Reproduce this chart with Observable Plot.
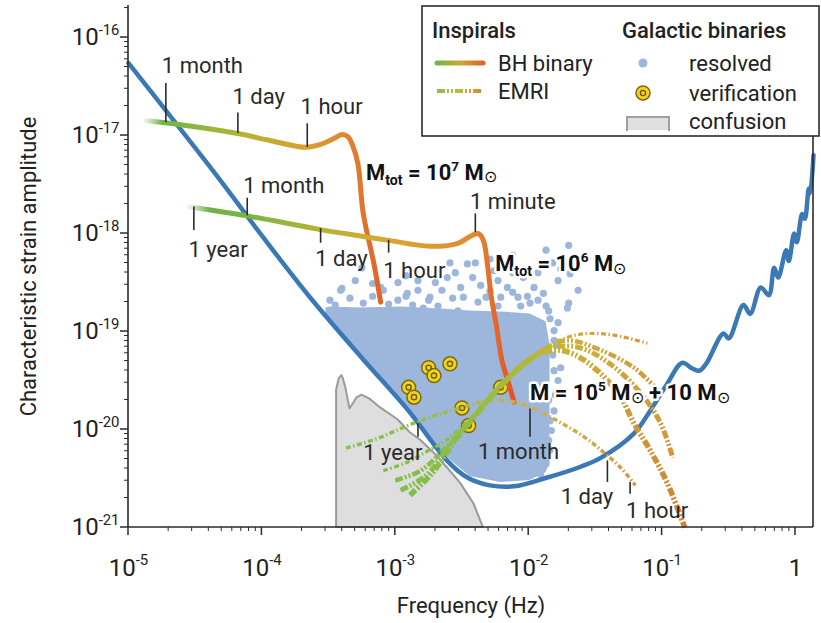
<!DOCTYPE html>
<html><head><meta charset="utf-8">
<script src="https://cdn.jsdelivr.net/npm/d3@7"></script>
<script src="https://cdn.jsdelivr.net/npm/@observablehq/plot@0.6"></script>
<style>
html,body{margin:0;padding:0;background:#fff;}
#chart{width:821px;height:623px;position:relative;overflow:hidden;}
#chart text{font-family:Roboto,"Noto Sans",sans-serif;white-space:pre;}
#chart g[stroke="white"] text{paint-order:stroke;}
</style></head><body><div id="chart"></div>
<script>
// ---- values, as [log10 frequency (Hz), log10 strain] ----
const sensitivity = [[-5.00,-16.26],[-4.74,-16.71],[-4.31,-17.46],[-3.99,-18.04],[-3.64,-18.65],[-3.25,-19.27],[-2.90,-19.81],[-2.61,-20.32],[-2.46,-20.49],[-2.29,-20.57],[-2.11,-20.58],[-1.86,-20.49],[-1.61,-20.38],[-1.46,-20.29],[-1.21,-20.04],[-1.09,-19.81],[-0.96,-19.53],[-0.85,-19.32],[-0.77,-19.38],[-0.72,-19.40],[-0.67,-19.33],[-0.54,-19.02],[-0.50,-19.07],[-0.39,-18.73],[-0.34,-18.82],[-0.26,-18.55],[-0.20,-18.63],[-0.16,-18.35],[-0.13,-18.45],[-0.07,-18.17],[-0.05,-18.28],[-0.01,-18.00],[0.01,-18.09],[0.05,-17.80],[0.07,-17.85],[0.10,-17.54],[0.11,-17.59],[0.135,-17.20]];
const bhBinary7 = [[-4.87,-16.85],[-4.61,-16.89],[-4.18,-16.98],[-3.94,-17.05],[-3.67,-17.12],[-3.56,-17.09],[-3.46,-17.03],[-3.40,-16.99],[-3.35,-17.02],[-3.32,-17.10],[-3.28,-17.29],[-3.24,-17.80],[-3.16,-18.31],[-3.11,-18.70]];
const bhBinary6 = [[-4.54,-17.73],[-4.11,-17.82],[-3.56,-17.96],[-3.24,-18.03],[-3.05,-18.07],[-2.74,-18.13],[-2.53,-18.10],[-2.44,-18.03],[-2.38,-18.00],[-2.34,-18.07],[-2.31,-18.31],[-2.28,-18.65],[-2.24,-18.96],[-2.20,-19.30],[-2.15,-19.53],[-2.11,-19.72]];
const emriTimed = [[-3.37,-20.19],[-3.13,-20.09],[-2.96,-19.99],[-2.83,-19.92],[-2.66,-19.84],[-2.51,-19.78],[-2.31,-19.71],[-2.14,-19.71],[-1.99,-19.77],[-1.84,-19.87],[-1.59,-20.07],[-1.44,-20.23],[-1.31,-20.39],[-1.20,-20.57]];
const emriArc1 = [[-3.09,-20.42],[-2.92,-20.34],[-2.77,-20.23],[-2.62,-20.11],[-2.44,-19.89],[-2.25,-19.62],[-2.06,-19.37],[-1.87,-19.16],[-1.69,-19.05],[-1.54,-19.02],[-1.35,-19.04],[-1.11,-19.12]];
const emriArc2 = [[-3.00,-20.52],[-2.81,-20.42],[-2.62,-20.18],[-2.44,-19.91],[-2.25,-19.60],[-2.06,-19.35],[-1.87,-19.17],[-1.71,-19.09],[-1.46,-19.19],[-1.21,-19.37],[-1.03,-19.60]];
const emriArc3 = [[-2.96,-20.62],[-2.77,-20.47],[-2.59,-20.16],[-2.40,-19.86],[-2.21,-19.56],[-2.02,-19.32],[-1.84,-19.17],[-1.63,-19.16],[-1.39,-19.33],[-1.16,-19.63],[-1.01,-19.94],[-0.92,-20.29]];
const emriArc4 = [[-2.89,-20.67],[-2.72,-20.44],[-2.55,-20.11],[-2.36,-19.79],[-2.17,-19.50],[-1.99,-19.28],[-1.80,-19.19],[-1.65,-19.24],[-1.46,-19.43],[-1.31,-19.67],[-1.21,-19.94],[-1.09,-20.21],[-0.96,-20.55],[-0.83,-21.00]];
// dense part of the resolved binaries: [log f, lower log h, upper log h]
const resolvedCore = [[-3.52,-18.84,-18.76],[-3.49,-18.89,-18.75],[-3.26,-19.26,-18.76],[-2.96,-19.72,-18.75],[-2.66,-20.23,-18.77],[-2.44,-20.48,-18.79],[-2.21,-20.54,-18.80],[-1.99,-20.52,-18.82],[-1.87,-20.44,-18.90],[-1.84,-20.34,-19.14]];
const resolvedSparse = [[-3.40,-18.56],[-3.25,-18.35],[-3.49,-18.68],[-3.41,-18.58],[-3.24,-18.71],[-3.09,-18.58],[-2.98,-18.68],[-3.11,-18.55],[-2.98,-18.50],[-2.91,-18.61],[-2.83,-18.58],[-2.79,-18.76],[-2.83,-18.48],[-2.74,-18.65],[-2.65,-18.58],[-2.61,-18.45],[-2.59,-18.30],[-2.51,-18.55],[-2.49,-18.65],[-2.46,-18.31],[-2.42,-18.45],[-2.40,-18.30],[-2.32,-18.65],[-2.26,-18.38],[-2.21,-18.65],[-2.16,-18.55],[-2.08,-18.65],[-2.04,-18.45],[-1.96,-18.55],[-1.89,-18.61],[-1.78,-18.48],[-1.76,-18.36],[-1.70,-18.12],[-1.69,-18.41],[-1.63,-18.58],[-1.70,-18.71],[-1.85,-18.79],[-1.99,-18.71],[-1.72,-18.30],[-1.76,-19.37],[-1.81,-19.40],[-1.71,-18.76],[-1.78,-18.91],[-1.81,-19.09],[-1.78,-19.50],[-1.85,-19.70],[-1.84,-19.91],[-1.85,-20.11],
  [-3.45,-18.73],[-3.34,-18.66],[-3.17,-18.64],[-3.05,-18.72],[-2.92,-18.64],[-2.87,-18.73],[-2.75,-18.68],[-2.68,-18.74],[-2.57,-18.66],[-2.53,-18.79],[-2.38,-18.70],[-2.29,-18.59],[-2.23,-18.74],[-2.12,-18.60],[-2.06,-18.74],[-2.01,-18.64],[-1.93,-18.68],[-1.87,-18.74],[-1.84,-18.87],[-1.81,-18.99],[-1.79,-19.14],[-1.82,-19.24],[-1.80,-19.65],[-1.81,-19.81],[-1.83,-20.01],[-1.84,-20.21],[-1.87,-20.35],[-1.91,-20.46],[-3.30,-18.48],[-3.17,-18.51],[-2.92,-18.43],[-2.70,-18.50],[-2.55,-18.40],[-2.36,-18.53],[-2.23,-18.48],[-2.12,-18.40],[-1.93,-18.40],[-1.82,-18.30],[-1.87,-18.17],[-2.12,-18.22],[-2.29,-18.26]];
const verification = [[-2.90,-19.57],[-2.86,-19.67],[-2.75,-19.37],[-2.71,-19.45],[-2.59,-19.33],[-2.50,-19.78],[-2.45,-19.96],[-2.21,-19.57]];
const confusion = [[-3.44,-21.00],[-3.44,-19.60],[-3.42,-19.48],[-3.40,-19.45],[-3.39,-19.48],[-3.37,-19.58],[-3.34,-19.79],[-3.31,-19.73],[-3.29,-19.68],[-3.25,-19.65],[-3.19,-19.69],[-3.11,-19.78],[-2.98,-19.90],[-2.89,-20.03],[-2.81,-20.11],[-2.71,-20.24],[-2.61,-20.39],[-2.51,-20.55],[-2.41,-20.76],[-2.34,-21.00]];
// time markers: [label, tick log f, tick log h1, tick log h2, label log f, label log h]
const timeMarks = [
  ["1 month",-4.72,-16.47,-16.87,-4.75,-16.29],["1 day",-4.18,-16.77,-16.98,-4.22,-16.61],["1 hour",-3.66,-16.88,-17.12,-3.71,-16.71],
  ["1 year",-4.51,-17.73,-17.97,-4.55,-18.17],["1 month",-4.11,-17.64,-17.82,-4.14,-17.51],["1 day",-3.56,-17.95,-18.10,-3.60,-18.26],
  ["1 hour",-3.05,-18.07,-18.20,-3.09,-18.38],["1 minute",-2.40,-17.80,-17.99,-2.44,-17.68],
  ["1 year",-2.83,-19.94,-20.08,-3.24,-20.24],["1 month",-1.99,-19.79,-20.08,-2.38,-20.23],["1 day",-1.41,-20.32,-20.54,-1.76,-20.69],["1 hour",-1.24,-20.54,-20.66,-1.27,-20.83]];
const massLabels = [["M_{tot} = 10^{7} M_{⊙}",-3.22,-17.38],["M_{tot} = 10^{6} M_{⊙}",-2.25,-18.31],["M = 10^{5} M_{⊙} + 10 M_{⊙}",-1.99,-19.63]];
const xTicks = [1e-5,1e-4,1e-3,1e-2,1e-1,1];
const yTicks = [1e-21,1e-20,1e-19,1e-18,1e-17,1e-16];
const xDomain = [1e-5, 10 ** 0.135];
const yDomain = [1e-21, 10 ** -15.673];
const legendInspirals = ["BH binary","EMRI"];
const legendGalactic = ["resolved","verification","confusion"];

// ---- build tables ----
const pts = a => a.map(([f,h]) => ({f: 10 ** f, h: 10 ** h}));
const core = resolvedCore.map(([f,lo,hi]) => ({f: 10 ** f, lo: 10 ** lo, hi: 10 ** hi}));
const conf = pts(confusion).map(d => ({...d, base: yDomain[0]}));
const marks = timeMarks.map(([label,f,h1,h2,lf,lh]) => ({label, f: 10 ** f, h1: 10 ** h1, h2: 10 ** h2, lf: 10 ** lf, lh: 10 ** lh}));
const mass = massLabels.map(([t,f,h]) => ({t, f: 10 ** f, h: 10 ** h}));
const fmt = d => { const e = Math.round(Math.log10(d)); return e === 0 ? "1" : `10^{${e}}`; };

const xMinor = [], yMinor = [];
for (let e = -5; e <= 0; e++) for (let k = 2; k <= 9; k++) { const v = k * 10 ** e; if (v <= xDomain[1]) xMinor.push(v); }
for (let e = -21; e <= -16; e++) for (let k = 2; k <= 9; k++) { const v = k * 10 ** e; if (v <= yDomain[1]) yMinor.push(v); }

function axesFrame(index, scales, values, dim) {
  const {x, y} = scales;
  const left = dim.marginLeft, right = dim.width - dim.marginRight, top = dim.marginTop, bottom = dim.height - dim.marginBottom;
  const g = d3.create("svg:g").attr("fill", "none").attr("stroke", "#2b2b2b");
  g.append("path").attr("d", `M${left},${top}V${bottom}H${right}`).attr("stroke-width", 1.6);
  g.append("path").attr("d", `M${right},136V${bottom}`).attr("stroke-width", 1.6);
  for (const v of xTicks) g.append("line").attr("x1", x(v)).attr("x2", x(v)).attr("y1", bottom).attr("y2", bottom + 8).attr("stroke-width", 1.5);
  for (const v of xMinor) g.append("line").attr("x1", x(v)).attr("x2", x(v)).attr("y1", bottom).attr("y2", bottom + 4).attr("stroke-width", 1);
  for (const v of yTicks) g.append("line").attr("y1", y(v)).attr("y2", y(v)).attr("x1", left).attr("x2", left - 8).attr("stroke-width", 1.5);
  for (const v of yMinor) g.append("line").attr("y1", y(v)).attr("y2", y(v)).attr("x1", left).attr("x2", left - 4).attr("stroke-width", 1);
  return g.node();
}

const cloudColor = "#9db6dc";
const thickDash = "8,2,2,2,2,2";
const thinDash = "5,2.5,1.5,2.5";
const emriOpts = (id, w, dash) => ({x: "f", y: "h", stroke: `url(#${id})`, strokeWidth: w, strokeDasharray: dash, strokeLinecap: "butt", strokeLinejoin: "miter", curve: "catmull-rom"});

const chart = Plot.plot({
  width: 821, height: 623, marginLeft: 128, marginRight: 8, marginTop: 5, marginBottom: 96,
  style: {fontFamily: "Roboto, sans-serif", fontSize: "22px", color: "#222", background: "white", overflow: "visible"},
  x: {type: "log", domain: xDomain, ticks: xTicks, tickFormat: fmt, tickSize: 0, tickPadding: 31, label: null},
  y: {type: "log", domain: yDomain, ticks: yTicks, tickFormat: fmt, tickSize: 0, tickPadding: 9, label: null},
  marks: [
    Plot.area(conf, {x1: "f", y1: "base", y2: "h", fill: "#dedede", stroke: "#9a9a9a", strokeWidth: 2}),
    Plot.area(core, {x1: "f", y1: "lo", y2: "hi", fill: cloudColor}),
    Plot.dot(pts(resolvedSparse), {x: "f", y: "h", r: 3.6, fill: cloudColor}),
    Plot.line(pts(sensitivity), {x: "f", y: "h", stroke: "#3b79b4", strokeWidth: 4.5, curve: "catmull-rom"}),
    Plot.dot(pts(verification), {x: "f", y: "h", r: 7, fill: "#f3d31c", stroke: "#7a6a14", strokeWidth: 1.5}),
    Plot.dot(pts(verification), {x: "f", y: "h", r: 2.6, fill: "#f3d31c", stroke: "#6b5c10", strokeWidth: 1.4}),
    Plot.line(pts(bhBinary7), {x: "f", y: "h", stroke: "url(#bh7)", strokeWidth: 5, strokeLinecap: "round", strokeLinejoin: "round", curve: "catmull-rom"}),
    Plot.line(pts(bhBinary6), {x: "f", y: "h", stroke: "url(#bh6)", strokeWidth: 5, strokeLinecap: "round", strokeLinejoin: "round", curve: "catmull-rom"}),
    Plot.line(pts(emriTimed), emriOpts("emriA", 3.5, thinDash)),
    Plot.line(pts(emriArc1), emriOpts("emri1", 3.2, thinDash)),
    Plot.line(pts(emriArc2), emriOpts("emri2", 4.5, thickDash)),
    Plot.line(pts(emriArc3), emriOpts("emri3", 5, thickDash)),
    Plot.line(pts(emriArc4), emriOpts("emri4", 5.5, thickDash)),
    Plot.ruleX(marks, {x: "f", y1: "h1", y2: "h2", stroke: "#2b2b2b", strokeWidth: 1.6}),
    Plot.text(marks, {x: "lf", y: "lh", text: "label", textAnchor: "start", fontSize: 22, fill: "#2a2a2a"}),
    Plot.text(mass, {x: "f", y: "h", text: "t", textAnchor: "start", fontSize: 22, fontWeight: "bold", fill: "#111", stroke: "white", strokeWidth: 5, strokeLinejoin: "round"}),
    Plot.text(["Characteristic strain amplitude"], {frameAnchor: "left", dx: -100, rotate: -90, textAnchor: "middle", lineAnchor: "middle", text: d => d, fontSize: 22, fill: "#222"}),
    Plot.text(["Frequency (Hz)"], {frameAnchor: "bottom", dy: 78, textAnchor: "middle", lineAnchor: "middle", text: d => d, fontSize: 22, fill: "#222"}),
    axesFrame
  ]
});
document.getElementById("chart").append(chart);
const svgEl = chart.tagName.toLowerCase() === "svg" ? chart : chart.querySelector("svg");
const svg = d3.select(svgEl);

// gradients
const defs = svg.insert("defs", ":first-child");
function grad(id, stops, user) {
  const g = defs.append("linearGradient").attr("id", id);
  if (user) g.attr("gradientUnits", "userSpaceOnUse").attr("x1", user[0]).attr("x2", user[1]).attr("y1", 0).attr("y2", 0);
  else g.attr("x1", 0).attr("x2", 1).attr("y1", 0).attr("y2", 0);
  for (const [o, c, a = 1] of stops) g.append("stop").attr("offset", o).attr("stop-color", c).attr("stop-opacity", a);
}
const emriStops = [[0,"#7dbf4c"],[0.3,"#99bd3f"],[0.55,"#c1b634"],[0.72,"#d0ab3a"],[1,"#d4963a"]];
grad("bh7", [[0,"#6cb04a",0.15],[0.07,"#74b347"],[0.22,"#8cb640"],[0.42,"#b9b233"],[0.68,"#d8a030"],[0.84,"#e08830"],[1,"#e2622c"]]);
grad("bh6", [[0,"#6cb04a",0.15],[0.06,"#70b246"],[0.18,"#78b544"],[0.40,"#b6b435"],[0.61,"#d6a832"],[0.88,"#e08a30"],[0.94,"#e3692d"],[1,"#e4512b"]]);
grad("emri1", emriStops);
grad("emri2", emriStops);
grad("emri3", emriStops);
grad("emri4", [[0,"#7dbf4c"],[0.3,"#99bd3f"],[0.52,"#c1b634"],[0.7,"#d0a53a"],[1,"#cf8432"]]);
grad("emriA", [[0,"#86c15a"],[0.25,"#8fc04a"],[0.45,"#b3b93a"],[0.6,"#c9b33d"],[0.8,"#d7a846"],[1,"#d59a3f"]]);
grad("lgBH", [[0,"#74b347"],[0.5,"#c9ac32"],[1,"#e2622c"]], [437, 483]);
grad("lgEMRI", [[0,"#8fc04a"],[0.5,"#c1b634"],[1,"#d28b36"]], [437, 483]);

// tick label sizes and rich text (superscripts/subscripts)
svg.selectAll("text").each(function() {
  const t = this.textContent;
  if (/^(10\^\{-?\d+\}|1)$/.test(t)) { this.setAttribute("font-size", 24); this.setAttribute("fill", "#222"); }
});
function richify(el) {
  const s = el.textContent;
  if (!/[\^_]\{/.test(s)) return;
  const base = parseFloat(getComputedStyle(el).fontSize) || 22;
  const re = /([\^_])\{([^}]*)\}|([^\^_]+)/g;
  el.textContent = "";
  let cur = 0, m;
  while ((m = re.exec(s))) {
    const ts = document.createElementNS("http://www.w3.org/2000/svg", "tspan");
    let target = 0;
    if (m[1] === "^") { target = -0.42 * base; ts.setAttribute("font-size", (0.62 * base).toFixed(1)); ts.textContent = m[2]; }
    else if (m[1] === "_") {
      if (m[2] === "⊙") { target = 0.12 * base; ts.setAttribute("font-size", (0.72 * base).toFixed(1)); ts.setAttribute("font-weight", "normal"); }
      else { target = 0.22 * base; ts.setAttribute("font-size", (0.64 * base).toFixed(1)); }
      ts.textContent = m[2];
    } else ts.textContent = m[3];
    if (Math.abs(target - cur) > 0.01) ts.setAttribute("dy", (target - cur).toFixed(1));
    cur = target;
    el.appendChild(ts);
  }
}
svg.selectAll("text").each(function() { richify(this); });

// legend
const lg = svg.append("g").attr("font-family", "Roboto, sans-serif").attr("font-size", 22).attr("fill", "#222").attr("text-anchor", "start");
lg.append("rect").attr("x", 422).attr("y", 6).attr("width", 397).attr("height", 130).attr("fill", "white").attr("stroke", "#2b2b2b").attr("stroke-width", 1.6);
lg.append("text").attr("x", 432).attr("y", 30).attr("dy", "0.35em").attr("font-weight", 500).text("Inspirals");
lg.append("text").attr("x", 622).attr("y", 30).attr("dy", "0.35em").attr("font-weight", 500).text("Galactic binaries");
lg.append("path").attr("d", "M437,63H483").attr("stroke", "url(#lgBH)").attr("stroke-width", 5).attr("stroke-linecap", "round").attr("fill", "none");
lg.append("path").attr("d", "M437,91H483").attr("stroke", "url(#lgEMRI)").attr("stroke-width", 4).attr("stroke-dasharray", thickDash).attr("fill", "none");
legendInspirals.forEach((t, i) => lg.append("text").attr("x", 498).attr("y", 63 + 28 * i).attr("dy", "0.35em").text(t));
lg.append("circle").attr("cx", 643).attr("cy", 63).attr("r", 4.5).attr("fill", cloudColor);
lg.append("circle").attr("cx", 643).attr("cy", 93).attr("r", 7).attr("fill", "#f3d31c").attr("stroke", "#7a6a14").attr("stroke-width", 1.5);
lg.append("circle").attr("cx", 643).attr("cy", 93).attr("r", 2.6).attr("fill", "#f3d31c").attr("stroke", "#6b5c10").attr("stroke-width", 1.4);
lg.append("rect").attr("x", 627).attr("y", 117).attr("width", 42).attr("height", 13).attr("fill", "#e0e0e0");
lg.append("path").attr("d", "M627,131V117H669V131").attr("fill", "none").attr("stroke", "#a0a0a0").attr("stroke-width", 2);
legendGalactic.forEach((t, i) => lg.append("text").attr("x", 689).attr("y", [63, 93, 121][i]).attr("dy", "0.35em").text(t));
</script></body></html>
